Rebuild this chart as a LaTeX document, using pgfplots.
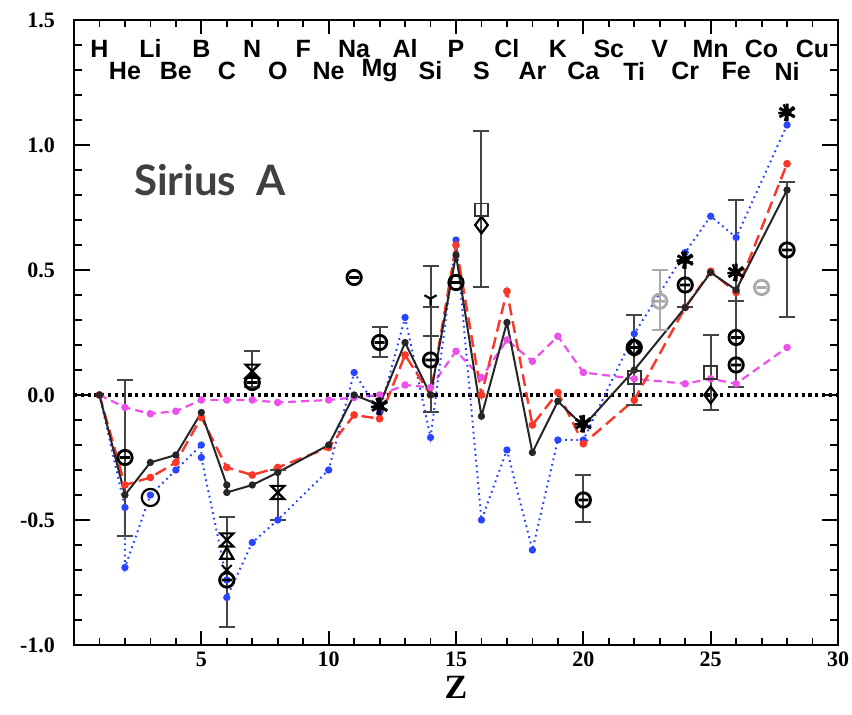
\documentclass[border=0pt]{standalone}
\usepackage{pgfplots}
\pgfplotsset{compat=1.18}
\usepackage{fontspec}
\setmainfont{Liberation Serif}
\newfontfamily\elfont{Liberation Sans}
\newfontfamily\titfont{Lato}
\definecolor{cblue}{RGB}{40,70,255}
\definecolor{cred}{RGB}{250,55,40}
\definecolor{cmag}{RGB}{235,80,235}
\definecolor{cgray}{RGB}{68,68,68}
\definecolor{lgray}{RGB}{170,170,170}
\definecolor{tgray}{RGB}{64,64,64}
\pgfdeclareplotmark{theta}{%
  \pgfpathcircle{\pgfpoint{0pt}{0pt}}{\pgfplotmarksize}%
  \pgfpathmoveto{\pgfpoint{-0.7\pgfplotmarksize}{0pt}}%
  \pgfpathlineto{\pgfpoint{0.7\pgfplotmarksize}{0pt}}%
  \pgfusepathqstroke}
\pgfdeclareplotmark{hourglass}{%
  \pgfpathmoveto{\pgfpoint{-\pgfplotmarksize}{\pgfplotmarksize}}%
  \pgfpathlineto{\pgfpoint{\pgfplotmarksize}{\pgfplotmarksize}}%
  \pgfpathlineto{\pgfpoint{-\pgfplotmarksize}{-\pgfplotmarksize}}%
  \pgfpathlineto{\pgfpoint{\pgfplotmarksize}{-\pgfplotmarksize}}%
  \pgfpathclose
  \pgfusepathqstroke}
% tick marks drawn as plot marks (upward / rightward from the point)
\pgfdeclareplotmark{tickup}{%
  \pgfpathmoveto{\pgfpoint{0pt}{0pt}}%
  \pgfpathlineto{\pgfpoint{0pt}{2\pgfplotmarksize}}%
  \pgfusepathqstroke}
\pgfdeclareplotmark{tickdown}{%
  \pgfpathmoveto{\pgfpoint{0pt}{0pt}}%
  \pgfpathlineto{\pgfpoint{0pt}{-2\pgfplotmarksize}}%
  \pgfusepathqstroke}
\pgfdeclareplotmark{tickright}{%
  \pgfpathmoveto{\pgfpoint{0pt}{0pt}}%
  \pgfpathlineto{\pgfpoint{2\pgfplotmarksize}{0pt}}%
  \pgfusepathqstroke}
\pgfdeclareplotmark{tickleft}{%
  \pgfpathmoveto{\pgfpoint{0pt}{0pt}}%
  \pgfpathlineto{\pgfpoint{-2\pgfplotmarksize}{0pt}}%
  \pgfusepathqstroke}
\pgfplotstableread{
x y
1 0
2 -0.40
3 -0.27
4 -0.24
5 -0.07
6 -0.36
6 -0.39
7 -0.36
8 -0.31
10 -0.20
11 0.00
12 -0.04
13 0.21
14 0.00
15 0.56
16 -0.085
17 0.29
18 -0.23
19 -0.025
20 -0.125
22 0.10
24 0.35
25 0.49
26 0.42
28 0.82
}\blackmodel
\pgfplotstableread{
x y
1 0
2 -0.36
3 -0.33
4 -0.27
5 -0.09
6 -0.29
7 -0.32
8 -0.29
10 -0.21
11 -0.08
12 -0.095
13 0.16
14 0.00
15 0.60
16 0.00
17 0.415
18 -0.12
19 0.01
20 -0.195
22 -0.02
24 0.35
25 0.495
26 0.41
28 0.925
}\redmodel
\pgfplotstableread{
x y
1 0
2 -0.45
2 -0.69
3 -0.40
4 -0.30
5 -0.20
5 -0.25
6 -0.74
6 -0.81
7 -0.59
8 -0.50
10 -0.30
11 0.09
12 -0.07
13 0.31
14 -0.17
15 0.62
16 -0.50
17 -0.22
18 -0.62
19 -0.18
20 -0.18
22 0.245
24 0.57
25 0.715
26 0.63
28 1.08
}\bluemodel
\pgfplotstableread{
x y
1 0
2 -0.05
3 -0.075
4 -0.065
5 -0.02
6 -0.02
7 -0.02
8 -0.03
10 -0.02
11 -0.01
12 0.00
13 0.04
14 0.03
15 0.175
16 0.07
17 0.22
18 0.135
19 0.235
20 0.09
22 0.065
24 0.045
25 0.065
26 0.045
28 0.19
}\magmodel
\pgfplotstableread{
x y ep em
2 -0.25 0.31 0.315
6 -0.71 0.22 0.22
7 0.10 0.075 0.07
8 -0.40 0.10 0.10
12 0.21 0.06 0.06
14 0.14 0.21 0.21
14 0.385 0.131 0.149
16 0.74 0.315 0.31
20 -0.42 0.10 0.09
22 0.14 0.18 0.18
24 0.44 0.09 0.09
25 0.09 0.15 0.15
26 0.40 0.38 0.37
26 0.23 0.145 0.20
28 0.58 0.27 0.27
}\errbars
\begin{document}
\begin{tikzpicture}
\useasboundingbox (-37pt,-35pt) rectangle (389pt,322.5pt);
\begin{axis}[
  at={(0pt,0pt)}, anchor=south west,
  scale only axis, width=382pt, height=312.5pt,
  xmin=0, xmax=30, ymin=-1.0, ymax=1.5,
  axis line style={line width=1.1pt},
  xtick={5,10,15,20,25,30},
  minor x tick num=4,
  ytick={-1.0,-0.5,0.0,0.5,1.0,1.5},
  minor y tick num=4,
  major tick length=7pt, minor tick length=3.5pt,
  xticklabels={5,10,15,20,25,30},
  yticklabels={{-1.0},{-0.5},{0.0},{0.5},{1.0},{1.5}},
  ticklabel style={font=\bfseries\fontsize{11}{11}\selectfont},
  yticklabel style={xshift=-6pt},
  xlabel={Z},
  xlabel style={font=\bfseries\fontsize{17}{17}\selectfont, yshift=2pt},
  clip=false,
]
% tick marks on the frame
\addplot[only marks, black, mark=tickup, mark size=3.5pt, mark options={line width=0.9pt}] coordinates {(5,-1) (10,-1) (15,-1) (20,-1) (25,-1)};
\addplot[only marks, black, mark=tickdown, mark size=3.5pt, mark options={line width=0.9pt}] coordinates {(5,1.5) (10,1.5) (15,1.5) (20,1.5) (25,1.5)};
\addplot[only marks, black, mark=tickup, mark size=1.75pt, mark options={line width=0.9pt}] coordinates {(1,-1) (2,-1) (3,-1) (4,-1) (6,-1) (7,-1) (8,-1) (9,-1) (11,-1) (12,-1) (13,-1) (14,-1) (16,-1) (17,-1) (18,-1) (19,-1) (21,-1) (22,-1) (23,-1) (24,-1) (26,-1) (27,-1) (28,-1) (29,-1)};
\addplot[only marks, black, mark=tickdown, mark size=1.75pt, mark options={line width=0.9pt}] coordinates {(1,1.5) (2,1.5) (3,1.5) (4,1.5) (6,1.5) (7,1.5) (8,1.5) (9,1.5) (11,1.5) (12,1.5) (13,1.5) (14,1.5) (16,1.5) (17,1.5) (18,1.5) (19,1.5) (21,1.5) (22,1.5) (23,1.5) (24,1.5) (26,1.5) (27,1.5) (28,1.5) (29,1.5)};
\addplot[only marks, black, mark=tickright, mark size=4pt, mark options={line width=0.9pt}] coordinates {(0,-0.5) (0,0) (0,0.5) (0,1.0)};
\addplot[only marks, black, mark=tickleft, mark size=4pt, mark options={line width=0.9pt}] coordinates {(30,-0.5) (30,0) (30,0.5) (30,1.0)};
\addplot[only marks, black, mark=tickright, mark size=2pt, mark options={line width=0.9pt}] coordinates {(0,-0.9) (0,-0.8) (0,-0.7) (0,-0.6) (0,-0.4) (0,-0.3) (0,-0.2) (0,-0.1) (0,0.1) (0,0.2) (0,0.3) (0,0.4) (0,0.6) (0,0.7) (0,0.8) (0,0.9) (0,1.1) (0,1.2) (0,1.3) (0,1.4)};
\addplot[only marks, black, mark=tickleft, mark size=2pt, mark options={line width=0.9pt}] coordinates {(30,-0.9) (30,-0.8) (30,-0.7) (30,-0.6) (30,-0.4) (30,-0.3) (30,-0.2) (30,-0.1) (30,0.1) (30,0.2) (30,0.3) (30,0.4) (30,0.6) (30,0.7) (30,0.8) (30,0.9) (30,1.1) (30,1.2) (30,1.3) (30,1.4)};
% zero line
\addplot[black, line width=1.7pt, dash pattern=on 1.6pt off 1.8pt] coordinates {(0,0) (30,0)};
% models
\addplot[cmag, line width=1.1pt, dash pattern=on 4pt off 2.5pt, mark=*, mark size=1.3pt, mark options={solid}] table[x=x,y=y] {\magmodel};
\addplot[cblue, line width=1.0pt, dash pattern=on 0.9pt off 1.9pt, mark=*, mark size=1.3pt, mark options={solid}] table[x=x,y=y] {\bluemodel};
\addplot[cred, line width=1.2pt, dash pattern=on 6pt off 3pt, mark=*, mark size=1.3pt, mark options={solid}] table[x=x,y=y] {\redmodel};
\addplot[black!85, line width=1.0pt, mark=*, mark size=1.3pt] table[x=x,y=y] {\blackmodel};
% error bars
\addplot[draw=none, mark=none, error bars/.cd, y dir=both, y explicit,
  error bar style={cgray, line width=1pt},
  error mark options={cgray, rotate=90, mark size=4pt, line width=1pt}]
  table[x=x, y=y, y error plus=ep, y error minus=em] {\errbars};
\addplot[draw=none, mark=none, error bars/.cd, y dir=both, y explicit,
  error bar style={lgray, line width=1pt},
  error mark options={lgray, rotate=90, mark size=4pt, line width=1pt}]
  coordinates {(23,0.38) +- (0,0.12)};
% observations
\addplot[only marks, black, mark=theta, mark size=3.6pt, mark options={line width=1.4pt}] coordinates {
 (2,-0.25) (6,-0.74) (7,0.05) (11,0.47) (12,0.21) (14,0.14) (15,0.45) (20,-0.42) (24,0.44) (26,0.23) (26,0.12) (28,0.58) (22,0.19)};
\addplot[only marks, black, mark=o, mark size=4.3pt, mark options={line width=1.1pt}] coordinates {(3,-0.41)};
\addplot[only marks, black, mark=hourglass, mark size=3.3pt, mark options={line width=1.1pt}] coordinates {(6,-0.58) (7,0.095) (8,-0.39)};
\addplot[only marks, black, mark=triangle, mark size=3.8pt, mark options={line width=1.1pt}] coordinates {(6,-0.64)};
\addplot[only marks, black, mark=x, mark size=3.5pt, mark options={line width=1.0pt}] coordinates {(6,-0.70)};
\addplot[only marks, black, mark=diamond, mark size=4.2pt, mark options={line width=1.1pt}] coordinates {(16,0.68) (22,0.19) (25,0.0)};
\addplot[only marks, black!80, mark=square, mark size=3.2pt, mark options={line width=0.9pt}] coordinates {(16,0.74) (22,0.07) (25,0.09)};
\addplot[only marks, black, mark=asterisk, mark size=4.4pt, mark options={line width=1.5pt}] coordinates {(12,-0.045) (20,-0.115) (24,0.54) (26,0.49) (28,1.13)};
\addplot[only marks, black, mark=star, mark size=4.4pt, mark options={line width=1.2pt, rotate=22}] coordinates {(12,-0.045) (20,-0.115) (24,0.54) (26,0.49) (28,1.13)};
\addplot[only marks, black, mark=*, mark size=2pt] coordinates {(12,-0.045) (20,-0.115) (24,0.54) (26,0.49) (28,1.13)};
\addplot[only marks, black, mark=Mercedes star flipped, mark size=3.5pt, mark options={line width=1.1pt}] coordinates {(14,0.385)};
\addplot[only marks, lgray, mark=theta, mark size=3.6pt, mark options={line width=1.4pt}] coordinates {(23,0.375) (27,0.43)};
% element labels
\node[font=\elfont\bfseries\fontsize{12.5}{12.5}\selectfont, inner sep=0pt] at (axis cs:1,1.385) {H};
\node[font=\elfont\bfseries\fontsize{12.5}{12.5}\selectfont, inner sep=0pt] at (axis cs:3,1.385) {Li};
\node[font=\elfont\bfseries\fontsize{12.5}{12.5}\selectfont, inner sep=0pt] at (axis cs:5,1.385) {B};
\node[font=\elfont\bfseries\fontsize{12.5}{12.5}\selectfont, inner sep=0pt] at (axis cs:7,1.385) {N};
\node[font=\elfont\bfseries\fontsize{12.5}{12.5}\selectfont, inner sep=0pt] at (axis cs:9,1.385) {F};
\node[font=\elfont\bfseries\fontsize{12.5}{12.5}\selectfont, inner sep=0pt] at (axis cs:11,1.385) {Na};
\node[font=\elfont\bfseries\fontsize{12.5}{12.5}\selectfont, inner sep=0pt] at (axis cs:13,1.385) {Al};
\node[font=\elfont\bfseries\fontsize{12.5}{12.5}\selectfont, inner sep=0pt] at (axis cs:15,1.385) {P};
\node[font=\elfont\bfseries\fontsize{12.5}{12.5}\selectfont, inner sep=0pt] at (axis cs:17,1.385) {Cl};
\node[font=\elfont\bfseries\fontsize{12.5}{12.5}\selectfont, inner sep=0pt] at (axis cs:19,1.385) {K};
\node[font=\elfont\bfseries\fontsize{12.5}{12.5}\selectfont, inner sep=0pt] at (axis cs:21,1.385) {Sc};
\node[font=\elfont\bfseries\fontsize{12.5}{12.5}\selectfont, inner sep=0pt] at (axis cs:23,1.385) {V};
\node[font=\elfont\bfseries\fontsize{12.5}{12.5}\selectfont, inner sep=0pt] at (axis cs:25,1.385) {Mn};
\node[font=\elfont\bfseries\fontsize{12.5}{12.5}\selectfont, inner sep=0pt] at (axis cs:27,1.385) {Co};
\node[font=\elfont\bfseries\fontsize{12.5}{12.5}\selectfont, inner sep=0pt] at (axis cs:29,1.385) {Cu};
\node[font=\elfont\bfseries\fontsize{12.5}{12.5}\selectfont, inner sep=0pt] at (axis cs:2,1.296) {He};
\node[font=\elfont\bfseries\fontsize{12.5}{12.5}\selectfont, inner sep=0pt] at (axis cs:4,1.296) {Be};
\node[font=\elfont\bfseries\fontsize{12.5}{12.5}\selectfont, inner sep=0pt] at (axis cs:6,1.296) {C};
\node[font=\elfont\bfseries\fontsize{12.5}{12.5}\selectfont, inner sep=0pt] at (axis cs:8,1.296) {O};
\node[font=\elfont\bfseries\fontsize{12.5}{12.5}\selectfont, inner sep=0pt] at (axis cs:10,1.296) {Ne};
\node[font=\elfont\bfseries\fontsize{12.5}{12.5}\selectfont, inner sep=0pt] at (axis cs:12,1.296) {Mg};
\node[font=\elfont\bfseries\fontsize{12.5}{12.5}\selectfont, inner sep=0pt] at (axis cs:14,1.296) {Si};
\node[font=\elfont\bfseries\fontsize{12.5}{12.5}\selectfont, inner sep=0pt] at (axis cs:16,1.296) {S};
\node[font=\elfont\bfseries\fontsize{12.5}{12.5}\selectfont, inner sep=0pt] at (axis cs:18,1.296) {Ar};
\node[font=\elfont\bfseries\fontsize{12.5}{12.5}\selectfont, inner sep=0pt] at (axis cs:20,1.296) {Ca};
\node[font=\elfont\bfseries\fontsize{12.5}{12.5}\selectfont, inner sep=0pt] at (axis cs:22,1.296) {Ti};
\node[font=\elfont\bfseries\fontsize{12.5}{12.5}\selectfont, inner sep=0pt] at (axis cs:24,1.296) {Cr};
\node[font=\elfont\bfseries\fontsize{12.5}{12.5}\selectfont, inner sep=0pt] at (axis cs:26,1.296) {Fe};
\node[font=\elfont\bfseries\fontsize{12.5}{12.5}\selectfont, inner sep=0pt] at (axis cs:28,1.296) {Ni};
\node[font=\titfont\bfseries\fontsize{21}{21}\selectfont, text=tgray, anchor=west, inner sep=0pt] at (axis cs:2.35,0.86) {Sirius\ \ A};
\end{axis}
\end{tikzpicture}
\end{document}
